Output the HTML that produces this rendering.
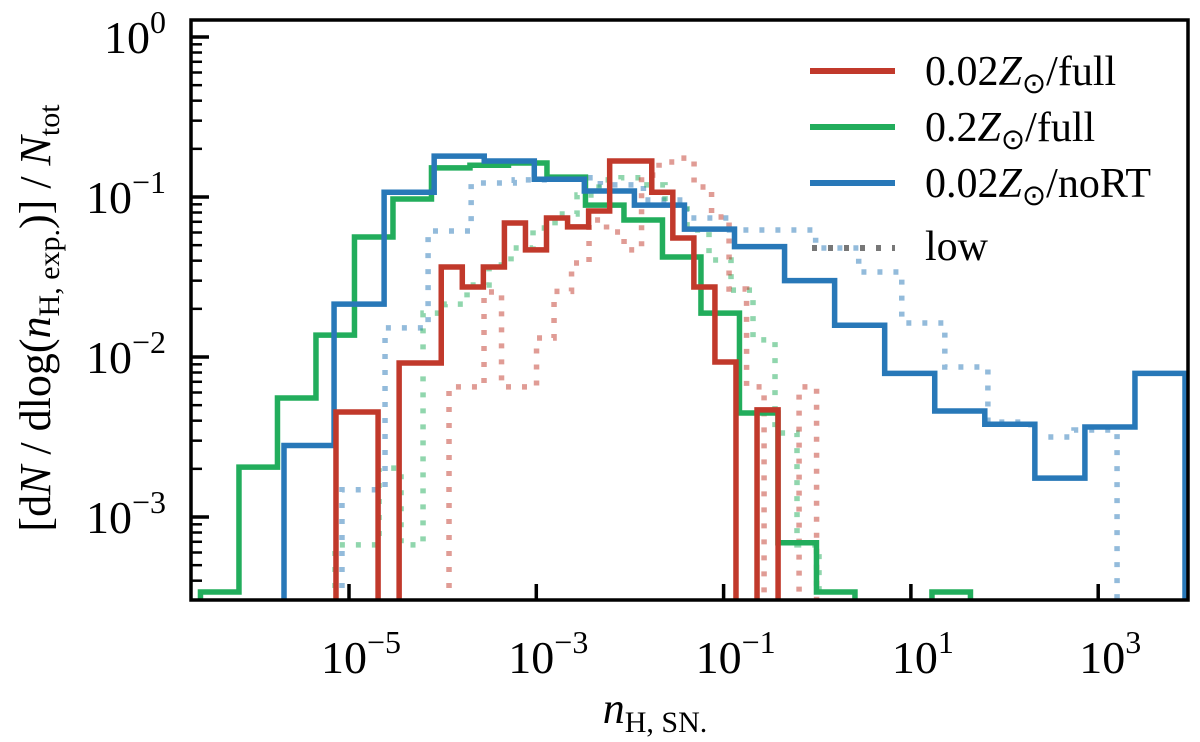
<!DOCTYPE html>
<html><head><meta charset="utf-8"><style>
body{margin:0;background:#fff}
svg text{font-family:"Liberation Serif",serif;fill:#000}
</style></head><body>
<svg id="chart" width="1200" height="737" viewBox="0 0 1200 737" xmlns="http://www.w3.org/2000/svg">
<defs><clipPath id="clip"><rect x="191" y="20" width="997" height="580"/></clipPath></defs>
<g id="plot" clip-path="url(#clip)"></g>
<rect x="191" y="20" width="997" height="580" fill="none" stroke="#000" stroke-width="3.5"/>
<g id="ticks"></g>
<g>
 <line x1="810" y1="71" x2="895" y2="71" stroke="#c1392b" stroke-width="6"/>
 <text x="925" y="85" font-size="42">0.02<tspan font-style="italic">Z</tspan><tspan font-size="29" dy="8">⊙</tspan><tspan dy="-8">/full</tspan></text>
 <line x1="810" y1="127" x2="895" y2="127" stroke="#22ad5c" stroke-width="6"/>
 <text x="925" y="141" font-size="42">0.2<tspan font-style="italic">Z</tspan><tspan font-size="29" dy="8">⊙</tspan><tspan dy="-8">/full</tspan></text>
 <line x1="810" y1="183" x2="895" y2="183" stroke="#2878b8" stroke-width="6"/>
 <text x="925" y="197" font-size="42">0.02<tspan font-style="italic">Z</tspan><tspan font-size="29" dy="8">⊙</tspan><tspan dy="-8">/noRT</tspan></text>
 <line x1="812" y1="248" x2="895" y2="248" stroke="#555" stroke-opacity="0.8" stroke-width="6" stroke-dasharray="5 11"/>
 <text x="925" y="260" font-size="42">low</text>
</g>
<text x="655" y="723" font-size="44" text-anchor="middle"><tspan font-style="italic">n</tspan><tspan font-size="30" dy="9">H, SN.</tspan></text>
<text transform="translate(50,318) rotate(-90)" font-size="44" text-anchor="middle">[d<tspan font-style="italic">N</tspan> / dlog(<tspan font-style="italic">n</tspan><tspan font-size="30" dy="9">H, exp.</tspan><tspan dy="-9">)] / </tspan><tspan font-style="italic">N</tspan><tspan font-size="30" dy="9">tot</tspan></text>
</svg>
<script>
const xTickExps = [-5, -3, -1, 1, 3];
const yTickExps = [0, -1, -2, -3];
const blueStart = -5.694, blueWidth = 0.5345;
const blueVals = [0.0028,0.0214,0.107,0.180,0.168,0.129,0.109,0.089,0.063,0.049,0.030,0.0158,0.0079,0.0046,0.0038,0.00175,0.00365,0.0079];
const greenStart = -6.586, greenWidth = 0.4111;
const greenVals = [0.00034,0.00205,0.00554,0.0137,0.0562,0.0972,0.152,0.158,0.163,0.133,0.089,0.0718,0.0422,0.0188,0.00447,0.00069,0.00034,0,0,0.00034];
const redStart = -5.139, redWidth = 0.2248;
const redVals = [0.00453,0.00453,0,0.00918,0.00918,0.0365,0.0274,0.0365,0.0688,0.0467,0.0739,0.065,0.0818,0.168,0.168,0.107,0.0554,0.0274,0.0093,0,0.00467];
const blueLowStart = -5.075, blueLowWidth = 0.4598;
const blueLowVals = [0.00148,0.0152,0.0613,0.1224,0.128,0.132,0.119,0.0958,0.0739,0.0622,0.0622,0.048,0.034,0.0163,0.00866,0.00392,0.00316,0.0035];
const redLowStart = -3.932, redLowWidth = 0.1869;
const redLowVals = [0.0065,0.0065,0.0255,0.0065,0.0065,0.01315,0.0257,0.0387,0.0718,0.0604,0.0467,0.137,0.1655,0.175,0.1155,0.075,0.0266,0.0065,0,0,0.0065];
const greenLowStart = -5.149, greenLowWidth = 0.2349;
const greenLowVals = [0.00067,0.00067,0.00202,0.00067,0.0188,0.0214,0.0282,0.0376,0.048,0.064,0.0783,0.103,0.128,0.132,0.119,0.089,0.0622,0.0404,0.0262,0.0128,0.00335,0.00067];

const NS='http://www.w3.org/2000/svg';
function xs(l){return 349+(l+5)*93.65;}
function ys(v){return v>0?37-Math.log10(v)*160:620;}
const plot=document.getElementById('plot');
function step(start,w,vals,color,dotted,name){
  let d='M'+xs(start)+','+620;
  vals.forEach((v,i)=>{const x0=xs(start+i*w),x1=xs(start+(i+1)*w);const y=ys(v);d+=' L'+x0+','+y+' L'+x1+','+y;});
  d+=' L'+xs(start+vals.length*w)+',620';
  const p=document.createElementNS(NS,'path');
  p.setAttribute('d',d);p.setAttribute('fill','none');p.setAttribute('stroke',color);
  p.setAttribute('stroke-width','5.5');
  if(dotted){p.setAttribute('stroke-dasharray','5 11');p.setAttribute('stroke-opacity','0.5');}
  
  
  plot.appendChild(p);
}
step(blueLowStart,blueLowWidth,blueLowVals,'#2878b8',true,'series-noRT-low');
step(greenLowStart,greenLowWidth,greenLowVals,'#22ad5c',true,'series-0.2Z-low');
step(redLowStart,redLowWidth,redLowVals,'#c1392b',true,'series-0.02Z-low');
step(greenStart,greenWidth,greenVals,'#22ad5c',false,'series-0.2Z-full');
step(blueStart,blueWidth,blueVals,'#2878b8',false,'series-noRT-full');
step(redStart,redWidth,redVals,'#c1392b',false,'series-0.02Z-full');

const tg=document.getElementById('ticks');
function line(x1,y1,x2,y2,w,name){const l=document.createElementNS(NS,'line');l.setAttribute('x1',x1);l.setAttribute('y1',y1);l.setAttribute('x2',x2);l.setAttribute('y2',y2);l.setAttribute('stroke','#000');l.setAttribute('stroke-width',w);


tg.appendChild(l);}
function label(x,y,anchor,exp,name){const t=document.createElementNS(NS,'text');t.setAttribute('x',x);t.setAttribute('y',y);t.setAttribute('font-size','46');t.setAttribute('text-anchor',anchor);
t.innerHTML='10<tspan font-size="32" dy="-20">'+(exp<0?'\u2212'+(-exp):exp)+'</tspan>';


tg.appendChild(t);}
xTickExps.forEach(e=>{const x=xs(e);line(x,600,x,584,3.5,'x-tick');label(x+12,673,'middle',e,'x-tick-label');});
yTickExps.forEach(e=>{const y=ys(Math.pow(10,e));line(191,y,209,y,3.5,'y-tick');label(166,y+16,'end',e,'y-tick-label');
 for(let k=2;k<=9;k++){const yy=ys(Math.pow(10,e-1)*k);if(yy<600&&yy>20)line(191,yy,202,yy,2.5,'y-minor-tick');}});
</script>
</body></html>
